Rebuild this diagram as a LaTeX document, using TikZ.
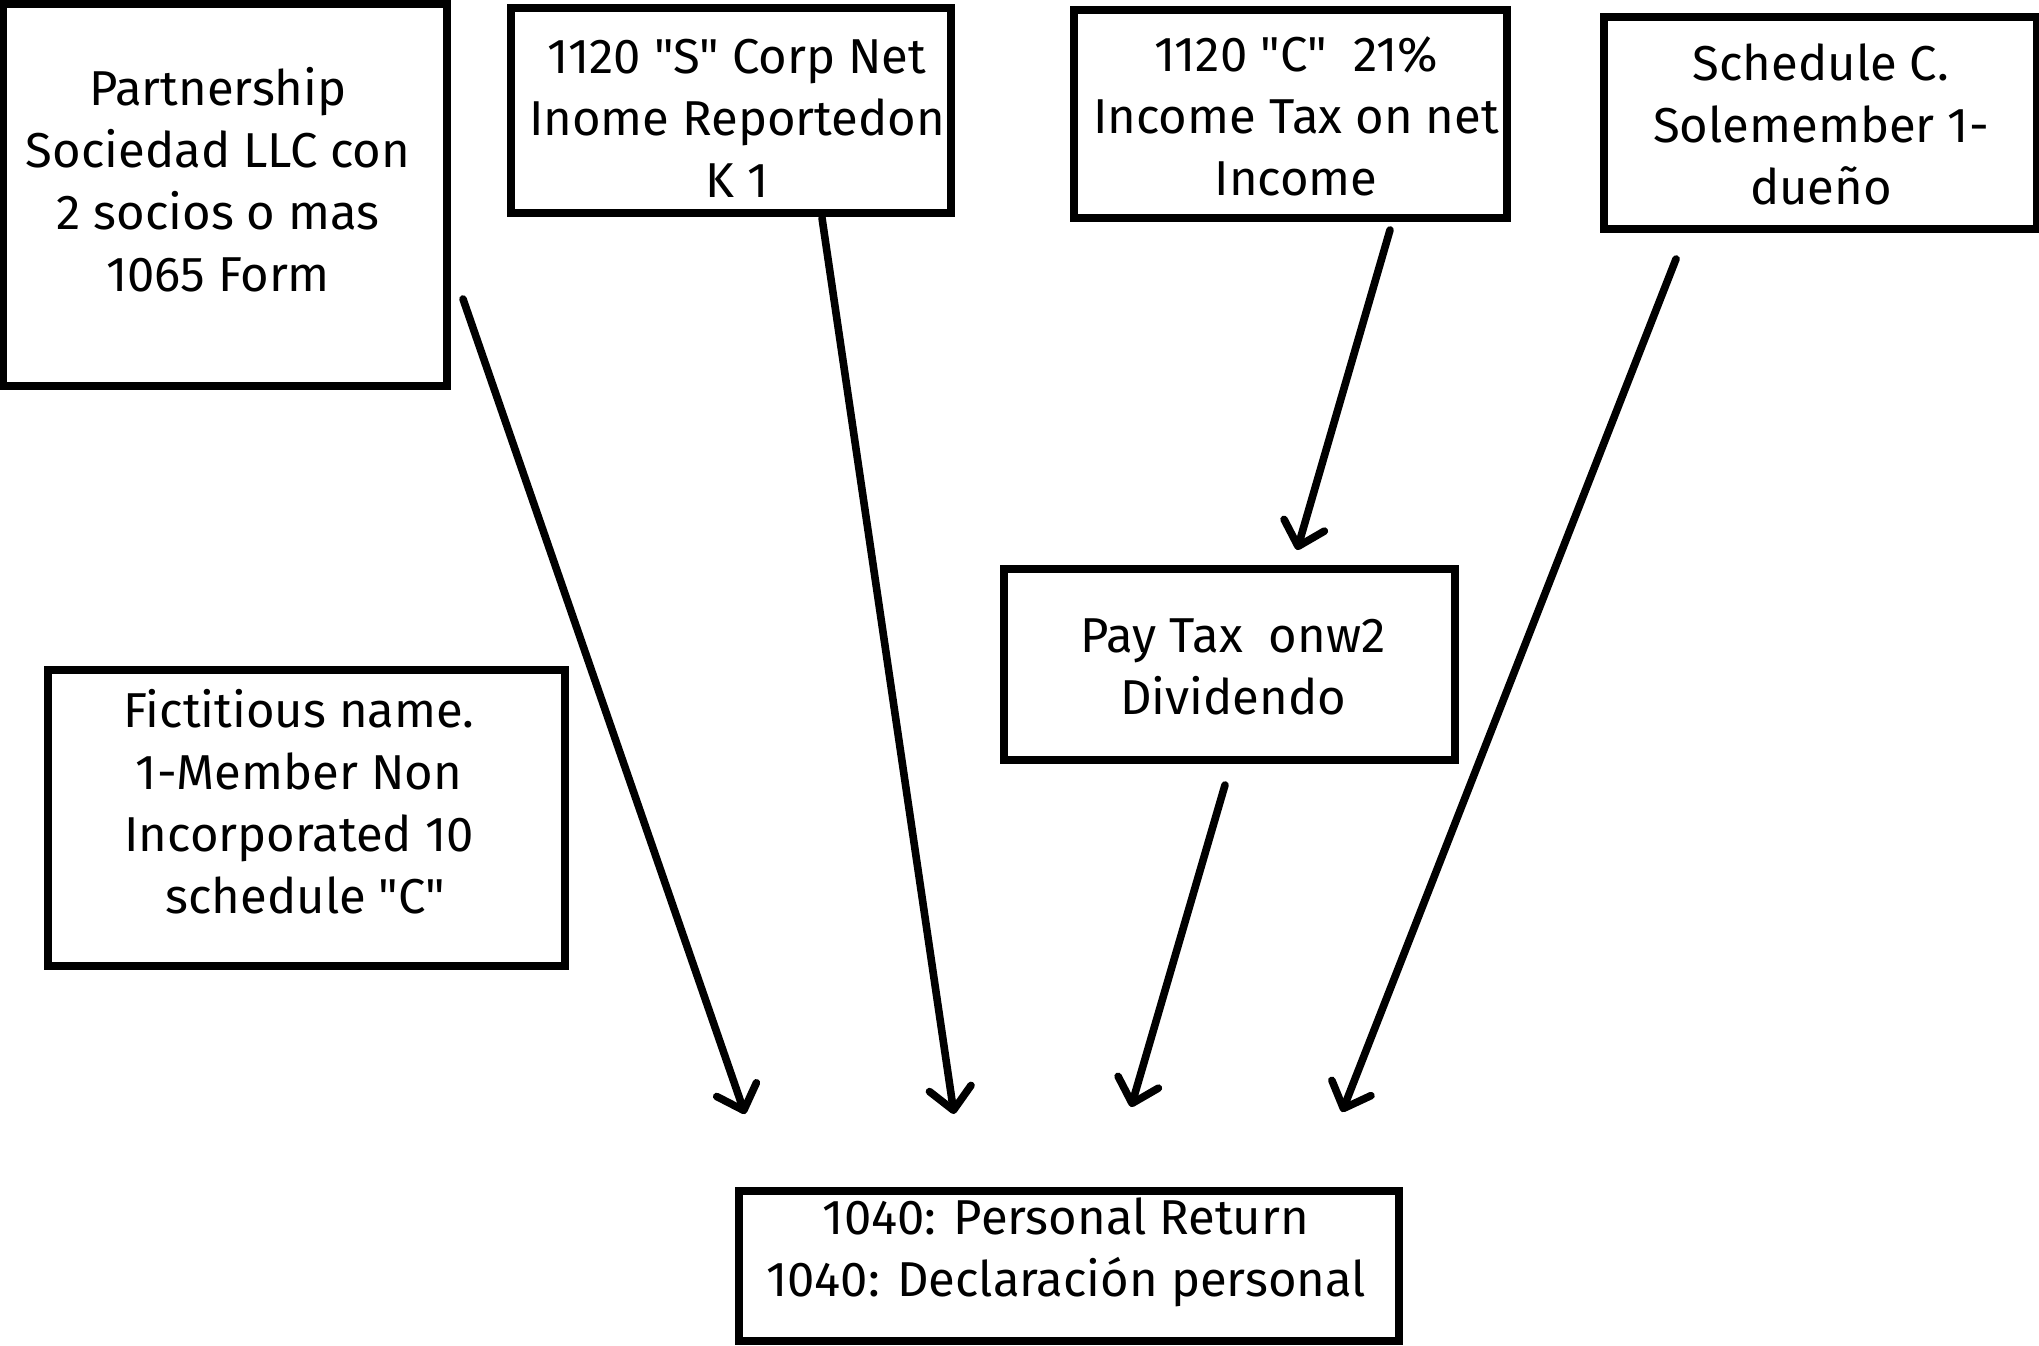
\documentclass[tikz,border=0pt]{standalone}
\usepackage{fontspec}
\setmainfont{Fira Sans}[Ligatures=TeXOff]
\usetikzlibrary{arrows.meta}
\begin{document}
\begin{tikzpicture}[x=0.5pt,y=-0.5pt,
  box/.style={draw=black, line width=4pt, fill=none, inner sep=0pt},
  txt/.style={align=center, font=\fontsize{24.5}{31}\selectfont, inner sep=0pt},
  conn/.style={line width=3.8pt, line cap=round, -{Straight Barb[length=11pt,width=21pt,line cap=round,line join=round]}}]
\useasboundingbox[fill=white] (0,0) rectangle (2039,1345);
% boxes
\node[box, minimum width=222pt, minimum height=191pt] (bA) at (225,195) {};
\node[box, minimum width=220pt, minimum height=102.5pt] (bB) at (731,110) {};
\node[box, minimum width=216.5pt, minimum height=104pt] (bC) at (1290,114) {};
\node[box, minimum width=216.5pt, minimum height=106pt] (bD) at (1820,123) {};
\node[box, minimum width=225.5pt, minimum height=95.5pt] (bE) at (1229,664) {};
\node[box, minimum width=258.5pt, minimum height=148pt] (bF) at (306,818) {};
\node[box, minimum width=330pt, minimum height=75pt] (bG) at (1069,1266) {};
% texts
\node[txt] (tA) at (218,180) {Partnership\\Sociedad LLC con\\2 socios o mas\\1065 Form};
\node[txt] (tB) at (737,118) {1120 "S" Corp Net\\Inome Reportedon\\K 1};
\node[txt] (tC) at (1296,116) {1120 "C"\ \ 21\%\\Income Tax on net\\Income};
\node[txt] (tD) at (1821,124) {Schedule C.\\Solemember 1-\\dueño};
\node[txt] (tE) at (1233,667) {Pay Tax\ \ onw2\\Dividendo};
\node[txt] (tF) at (299,802) {Fictitious name.\\1-Member Non\\Incorporated 10\\\ schedule "C"};
\node[txt] (tG) at (1066,1252) {1040: Personal Return\\1040: Declaración personal};
% connector ends
\coordinate (s1) at (463,299);  \coordinate (e1) at (745,1114);
\coordinate (s2) at (822,218);  \coordinate (e2) at (954,1114);
\coordinate (s3) at (1390,230); \coordinate (e3) at (1297,550);
\coordinate (s4) at (1225,785); \coordinate (e4) at (1131,1107);
\coordinate (s5) at (1676,259); \coordinate (e5) at (1342,1112);
\draw[conn] (s1) -- (e1);
\draw[conn] (s2) -- (e2);
\draw[conn] (s3) -- (e3);
\draw[conn] (s4) -- (e4);
\draw[conn] (s5) -- (e5);
\end{tikzpicture}
\end{document}
